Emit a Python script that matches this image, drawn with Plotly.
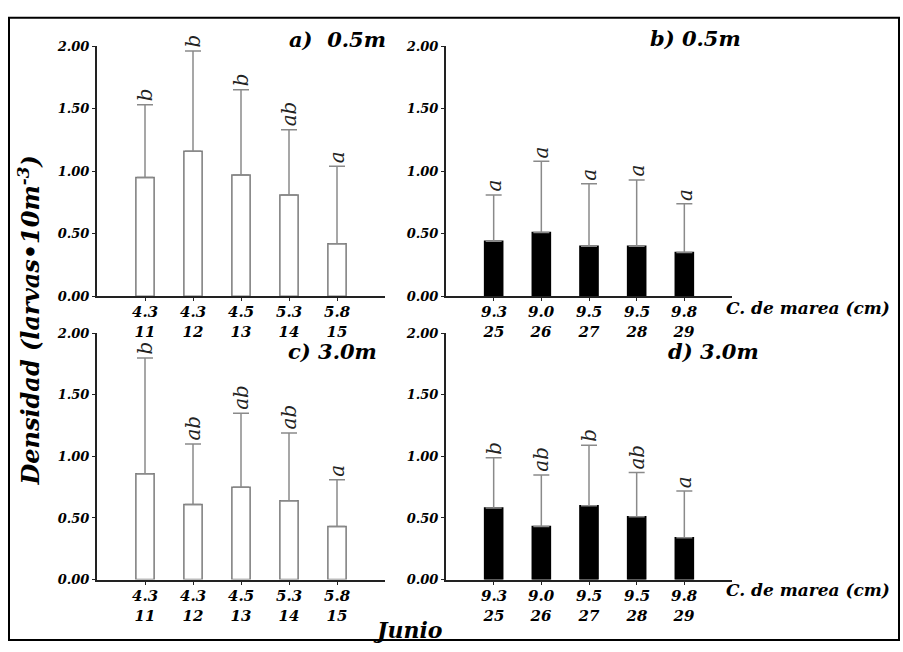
import plotly.graph_objects as go

W, H = 903, 652

pos = [1, 2, 3, 4, 5]
ticks_left = ["4.3<br>11", "4.3<br>12", "4.5<br>13", "5.3<br>14", "5.8<br>15"]
ticks_right = ["9.3<br>25", "9.0<br>26", "9.5<br>27", "9.5<br>28", "9.8<br>29"]

mean_a = [0.95, 1.16, 0.97, 0.81, 0.42]
upper_a = [1.53, 1.96, 1.65, 1.33, 1.04]
let_a = ["b", "b", "b", "ab", "a"]

mean_b = [0.44, 0.51, 0.40, 0.40, 0.35]
upper_b = [0.81, 1.08, 0.90, 0.93, 0.74]
let_b = ["a", "a", "a", "a", "a"]

mean_c = [0.86, 0.61, 0.75, 0.64, 0.43]
upper_c = [1.80, 1.10, 1.35, 1.19, 0.81]
let_c = ["b", "ab", "ab", "ab", "a"]

mean_d = [0.58, 0.43, 0.60, 0.51, 0.34]
upper_d = [0.99, 0.85, 1.09, 0.87, 0.72]
let_d = ["b", "ab", "b", "ab", "a"]

y_ticks = [0, 0.5, 1.0, 1.5, 2.0]
y_ticktext = ["0.00", "0.50", "1.00", "1.50", "2.00"]

SERIF = "DejaVu Serif"

def px_x(p):
    return p / W

def px_y(p):
    return (H - p) / H

def bi(s):
    return "<b><i>" + s + "</i></b>"

panels = [
    (mean_a, upper_a, let_a, ticks_left, "white", "#7a7a7a", (97, 385), (40, 296), "a)  0.5m", (337, 33)),
    (mean_b, upper_b, let_b, ticks_right, "black", "black", (446, 732), (40, 296), "b) 0.5m", (695, 32)),
    (mean_c, upper_c, let_c, ticks_left, "white", "#7a7a7a", (97, 385), (334, 586), "c) 3.0m", (332, 353)),
    (mean_d, upper_d, let_d, ticks_right, "black", "black", (446, 732), (334, 586), "d) 3.0m", (713, 353)),
]

fig = go.Figure()
annotations = []

for i, (m, up, lets, tt, fill, outl, xd, yd, title, tpos) in enumerate(panels):
    n = i + 1
    xa = "x" if n == 1 else f"x{n}"
    ya = "y" if n == 1 else f"y{n}"
    sd = [u - v for u, v in zip(up, m)]
    fig.add_trace(go.Bar(
        x=pos, y=m, width=0.38,
        marker=dict(color=fill, line=dict(color=outl, width=1.5)),
        error_y=dict(type="data", symmetric=False, array=sd,
                     arrayminus=[0] * len(sd), color="#8a8a8a",
                     thickness=1.5, width=8),
        xaxis=xa, yaxis=ya, showlegend=False,
    ))
    axkey = "xaxis" if n == 1 else f"xaxis{n}"
    aykey = "yaxis" if n == 1 else f"yaxis{n}"
    fig.layout[axkey] = dict(
        domain=[px_x(xd[0]), px_x(xd[1])], range=[0, 6],
        anchor=ya, tickvals=pos, showticklabels=False,
        showline=True, linecolor="#222", linewidth=2,
        ticks="outside", ticklen=3, tickcolor="#222",
        showgrid=False, zeroline=False,
    )
    fig.layout[aykey] = dict(
        domain=[px_y(yd[1]), px_y(yd[0])], range=[0, 2],
        anchor=xa, tickvals=y_ticks, ticktext=[bi(t) for t in y_ticktext],
        showline=True, linecolor="#222", linewidth=2,
        ticks="outside", ticklen=3, tickcolor="#222",
        showgrid=False, zeroline=False,
        tickfont=dict(family=SERIF, size=13, color="black"),
    )
    for p, t in zip(pos, tt):
        annotations.append(dict(
            x=p, y=0, xref=xa, yref=ya, text=bi(t), showarrow=False,
            xanchor="center", yanchor="top", yshift=-5,
            font=dict(family=SERIF, size=15, color="black"),
        ))
    for p, u, l in zip(pos, up, lets):
        annotations.append(dict(
            x=p, y=u, xref=xa, yref=ya, text="<i>" + l + "</i>", showarrow=False,
            textangle=-90, xanchor="center", yanchor="bottom", yshift=1,
            font=dict(family=SERIF, size=20, color="#222"),
        ))
    annotations.append(dict(
        x=px_x(tpos[0]), y=px_y(tpos[1]), xref="paper", yref="paper",
        text=bi(title), showarrow=False, xanchor="center", yanchor="middle",
        font=dict(family=SERIF, size=21, color="black"),
    ))

for yy in (308, 597):
    annotations.append(dict(
        x=px_x(808), y=px_y(yy), xref="paper", yref="paper",
        text=bi("C. de marea (cm)"), showarrow=False,
        xanchor="center", yanchor="middle",
        font=dict(family=SERIF, size=17, color="black"),
    ))

annotations.append(dict(
    x=px_x(29), y=px_y(321), xref="paper", yref="paper",
    text=bi("Densidad (larvas•10m<sup>-3</sup>)"), showarrow=False,
    textangle=-90, xanchor="center", yanchor="middle",
    font=dict(family=SERIF, size=24, color="black"),
))

annotations.append(dict(
    x=px_x(407), y=px_y(638), xref="paper", yref="paper",
    text=bi("Junio"), showarrow=False, xanchor="center", yanchor="middle",
    font=dict(family=SERIF, size=22, color="black"),
))

fig.update_layout(
    width=W, height=H,
    margin=dict(l=0, r=0, t=0, b=0),
    paper_bgcolor="white", plot_bgcolor="white",
    font=dict(family=SERIF, color="black"),
    annotations=annotations,
    shapes=[dict(type="rect", xref="paper", yref="paper",
                 x0=px_x(9), x1=px_x(899), y0=px_y(648), y1=px_y(11),
                 line=dict(color="black", width=2), fillcolor="rgba(0,0,0,0)")],
    bargap=0.5,
)

fig.write_html("out.html")
